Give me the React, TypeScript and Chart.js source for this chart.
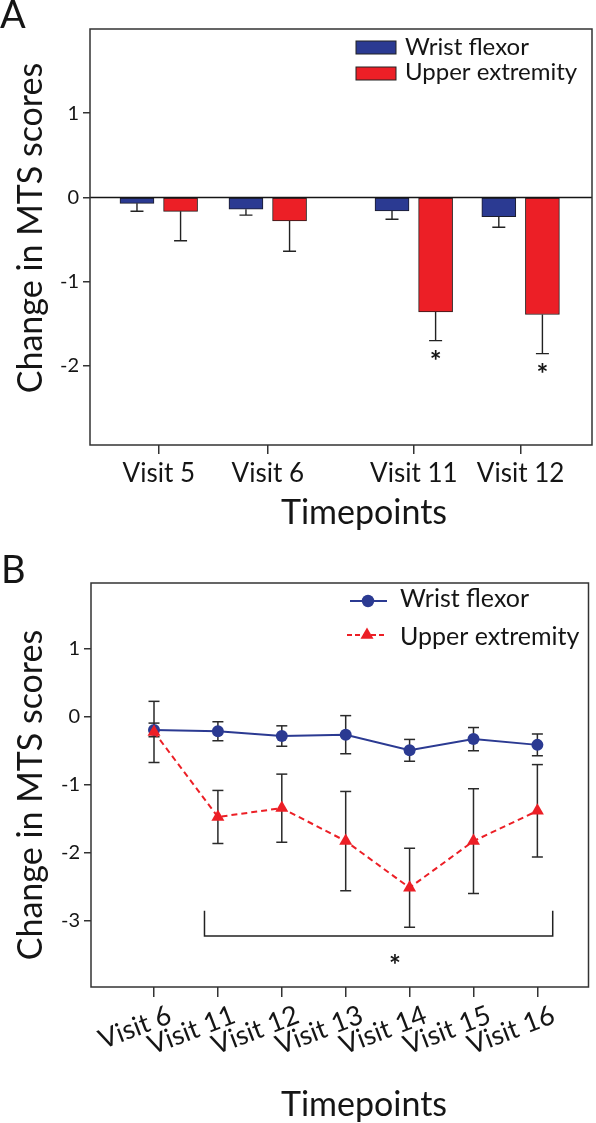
import React, { useEffect, useRef } from "react";
import { Chart, registerables } from "chart.js";

Chart.register(...registerables);

// ---------- Panel A data ----------
const visitsA = ["Visit 5", "Visit 6", "Visit 11", "Visit 12"];
const posA = [1, 2, 3.34, 4.32];
const wristA = [-0.07, -0.14, -0.16, -0.23];
const wristErrA = [0.095, 0.07, 0.1, 0.125];
const upperA = [-0.165, -0.28, -1.36, -1.39];
const upperErrA = [0.35, 0.36, 0.34, 0.465];
const sigA = [false, false, true, true];
const yTicksA = [1, 0, -1, -2];

// ---------- Panel B data ----------
const visitsB = ["Visit 6", "Visit 11", "Visit 12", "Visit 13", "Visit 14", "Visit 15", "Visit 16"];
const wristB = [-0.2, -0.22, -0.29, -0.27, -0.5, -0.335, -0.42];
const wristErrB = [0.1, 0.14, 0.15, 0.28, 0.16, 0.17, 0.16];
const upperB = [-0.23, -1.48, -1.35, -1.835, -2.52, -1.835, -1.39];
const upperErrB = [0.45, 0.39, 0.5, 0.73, 0.58, 0.77, 0.68];
const yTicksB = [1, 0, -1, -2, -3];
const bracketX = [0.79, 6.24];
const bracketY = [-2.86, -3.23];
const starB = [3.77, -3.57];

const seriesNames = ["Wrist flexor", "Upper extremity"];

const BLUE = "#2B3A92";
const RED = "#EC1F26";
const INK = "#151515";
const FRAME = "#333333";
const FAM = 'Lato, "Open Sans", sans-serif';
const F = (size: number, weight = "normal") => `${weight} ${size}px ${FAM}`;

const W = 596;
const HA = 550;
const HB = 573;

function drawErr(ctx: CanvasRenderingContext2D, px: number, p1: number, p2: number, cap: number) {
  ctx.beginPath();
  ctx.moveTo(px, p1);
  ctx.lineTo(px, p2);
  ctx.moveTo(px - cap, p2);
  ctx.lineTo(px + cap, p2);
  ctx.stroke();
}

function PanelA() {
  const ref = useRef<HTMLCanvasElement>(null);
  useEffect(() => {
    const canvas = ref.current!;
    const decor = {
      id: "decorA",
      afterDatasetsDraw(chart: any) {
        const { ctx, chartArea: a, scales } = chart;
        const x = scales.x;
        const y = scales.y;
        ctx.save();
        ctx.strokeStyle = INK;
        ctx.lineWidth = 1.5;
        const y0 = y.getPixelForValue(0);
        ctx.beginPath();
        ctx.moveTo(a.left, y0);
        ctx.lineTo(a.right, y0);
        ctx.stroke();
        ctx.strokeStyle = "#222";
        ctx.lineWidth = 1.4;
        posA.forEach((p, i) => {
          drawErr(ctx, x.getPixelForValue(p - 0.2), y.getPixelForValue(wristA[i]), y.getPixelForValue(wristA[i] - wristErrA[i]), 6.5);
          drawErr(ctx, x.getPixelForValue(p + 0.2), y.getPixelForValue(upperA[i]), y.getPixelForValue(upperA[i] - upperErrA[i]), 6.5);
        });
        ctx.fillStyle = INK;
        ctx.font = F(28, "bold");
        ctx.textAlign = "center";
        ctx.textBaseline = "alphabetic";
        posA.forEach((p, i) => {
          if (!sigA[i]) return;
          const px = x.getPixelForValue(p + 0.2);
          const py = y.getPixelForValue(upperA[i] - upperErrA[i]);
          ctx.fillText("*", px, py + 30);
        });
        ctx.restore();
      },
      afterDraw(chart: any) {
        const { ctx, chartArea: a } = chart;
        ctx.save();
        ctx.strokeStyle = FRAME;
        ctx.lineWidth = 1.5;
        ctx.strokeRect(a.left, a.top, a.right - a.left, a.bottom - a.top);
        // legend
        const colors = [BLUE, RED];
        ctx.font = F(24);
        ctx.textAlign = "left";
        ctx.textBaseline = "alphabetic";
        seriesNames.forEach((n, i) => {
          const ty = 41 + i * 26;
          ctx.fillStyle = colors[i];
          ctx.fillRect(356, ty, 40, 13);
          ctx.strokeStyle = "#222";
          ctx.lineWidth = 1;
          ctx.strokeRect(356, ty, 40, 13);
          ctx.fillStyle = INK;
          ctx.fillText(n, 405, 55 + i * 25);
        });
        // titles
        ctx.fillStyle = INK;
        ctx.font = F(34);
        ctx.textAlign = "center";
        ctx.fillText("Timepoints", 364, 524);
        ctx.save();
        ctx.translate(31, 228);
        ctx.rotate(-Math.PI / 2);
        ctx.textBaseline = "middle";
        ctx.fillText("Change in MTS scores", 0, 0);
        ctx.restore();
        ctx.font = F(38);
        ctx.textAlign = "left";
        ctx.textBaseline = "alphabetic";
        ctx.fillText("A", 0, 28);
        ctx.restore();
      },
    };
    const chart = new Chart(canvas, {
      type: "bar",
      data: {
        datasets: [
          {
            label: seriesNames[0],
            data: posA.map((p, i) => ({ x: p - 0.2, y: wristA[i] })),
            backgroundColor: BLUE,
            borderColor: "#1c1c2a",
            borderWidth: 1,
            borderSkipped: false,
            barThickness: 34,
            grouped: false,
          } as any,
          {
            label: seriesNames[1],
            data: posA.map((p, i) => ({ x: p + 0.2, y: upperA[i] })),
            backgroundColor: RED,
            borderColor: "#2a1a1a",
            borderWidth: 1,
            borderSkipped: false,
            barThickness: 34,
            grouped: false,
          } as any,
        ],
      },
      options: {
        animation: false,
        responsive: false,
        maintainAspectRatio: false,
        layout: { padding: { top: 29, right: 4, left: 0, bottom: 0 } },
        plugins: { legend: { display: false }, tooltip: { enabled: false } },
        scales: {
          x: {
            type: "linear",
            offset: false,
            min: 0.369,
            max: 4.975,
            afterBuildTicks: (s: any) => {
              s.ticks = posA.map((v) => ({ value: v }));
            },
            afterFit: (s: any) => {
              s.height = HA - 445;
            },
            ticks: {
              callback: (_v: any, i: number) => visitsA[i],
              font: { family: FAM, size: 26 },
              color: INK,
              padding: 4,
              maxRotation: 0,
              minRotation: 0,
              autoSkip: false,
            },
            grid: { drawOnChartArea: false, tickLength: 9, color: FRAME, lineWidth: 1.5, offset: false },
            border: { display: false },
          } as any,
          y: {
            type: "linear",
            min: -2.94,
            max: 2,
            afterBuildTicks: (s: any) => {
              s.ticks = yTicksA.map((v) => ({ value: v }));
            },
            afterFit: (s: any) => {
              s.width = 90;
            },
            ticks: {
              callback: (v: any) => String(v),
              font: { family: FAM, size: 20 },
              color: INK,
              padding: 4,
              autoSkip: false,
            },
            grid: { drawOnChartArea: false, tickLength: 7, color: FRAME, lineWidth: 1.5 },
            border: { display: false },
          } as any,
        },
      },
      plugins: [decor],
    });
    return () => chart.destroy();
  }, []);
  return <canvas ref={ref} width={W} height={HA} style={{ display: "block", width: W, height: HA }} />;
}

function PanelB() {
  const ref = useRef<HTMLCanvasElement>(null);
  useEffect(() => {
    const canvas = ref.current!;
    const decor = {
      id: "decorB",
      beforeDatasetsDraw(chart: any) {
        const { ctx, scales } = chart;
        const x = scales.x;
        const y = scales.y;
        ctx.save();
        ctx.strokeStyle = "#2a2a2a";
        ctx.lineWidth = 1.5;
        const both = (px: number, m: number, e: number) => {
          const top = y.getPixelForValue(m + e);
          drawErr(ctx, px, top, y.getPixelForValue(m - e), 5.5);
          ctx.beginPath();
          ctx.moveTo(px - 5.5, top);
          ctx.lineTo(px + 5.5, top);
          ctx.stroke();
        };
        visitsB.forEach((_n, i) => {
          const px = x.getPixelForValue(i);
          both(px, upperB[i], upperErrB[i]);
          both(px, wristB[i], wristErrB[i]);
        });
        ctx.restore();
      },
      afterDraw(chart: any) {
        const { ctx, chartArea: a, scales } = chart;
        const x = scales.x;
        const y = scales.y;
        ctx.save();
        ctx.strokeStyle = FRAME;
        ctx.lineWidth = 1.5;
        ctx.strokeRect(a.left, a.top, a.right - a.left, a.bottom - a.top);
        // bracket
        const bx1 = x.getPixelForValue(bracketX[0]);
        const bx2 = x.getPixelForValue(bracketX[1]);
        const by1 = y.getPixelForValue(bracketY[0]);
        const by2 = y.getPixelForValue(bracketY[1]);
        ctx.strokeStyle = "#222";
        ctx.beginPath();
        ctx.moveTo(bx1, by1);
        ctx.lineTo(bx1, by2);
        ctx.lineTo(bx2, by2);
        ctx.lineTo(bx2, by1);
        ctx.stroke();
        ctx.fillStyle = INK;
        ctx.font = F(28, "bold");
        ctx.textAlign = "center";
        ctx.textBaseline = "alphabetic";
        ctx.fillText("*", x.getPixelForValue(starB[0]), y.getPixelForValue(starB[1]) + 16);
        // legend
        ctx.lineWidth = 2;
        ctx.strokeStyle = BLUE;
        ctx.beginPath();
        ctx.moveTo(350, 51);
        ctx.lineTo(387, 51);
        ctx.stroke();
        ctx.fillStyle = BLUE;
        ctx.beginPath();
        ctx.arc(368, 51, 6.2, 0, Math.PI * 2);
        ctx.fill();
        ctx.strokeStyle = RED;
        ctx.setLineDash([5, 3]);
        ctx.beginPath();
        ctx.moveTo(347, 85);
        ctx.lineTo(385, 85);
        ctx.stroke();
        ctx.setLineDash([]);
        ctx.fillStyle = RED;
        const r = 7.5;
        ctx.beginPath();
        for (let k = 0; k < 3; k++) {
          const ang = (k * 2 * Math.PI) / 3;
          const vx = 367 + Math.sin(ang) * r;
          const vy = 85 - Math.cos(ang) * r;
          if (k === 0) ctx.moveTo(vx, vy);
          else ctx.lineTo(vx, vy);
        }
        ctx.closePath();
        ctx.fill();
        ctx.fillStyle = INK;
        ctx.font = F(25);
        ctx.textAlign = "left";
        ctx.fillText(seriesNames[0], 400, 57);
        ctx.fillText(seriesNames[1], 400, 95);
        // titles
        ctx.font = F(34);
        ctx.textAlign = "center";
        ctx.fillText("Timepoints", 364, 566);
        ctx.save();
        ctx.translate(31, 245);
        ctx.rotate(-Math.PI / 2);
        ctx.textBaseline = "middle";
        ctx.fillText("Change in MTS scores", 0, 0);
        ctx.restore();
        ctx.font = F(38);
        ctx.textAlign = "left";
        ctx.textBaseline = "alphabetic";
        ctx.fillText("B", 1, 33);
        ctx.restore();
      },
    };
    const chart = new Chart(canvas, {
      type: "line",
      data: {
        datasets: [
          {
            label: seriesNames[0],
            data: wristB.map((v, i) => ({ x: i, y: v })),
            borderColor: BLUE,
            backgroundColor: BLUE,
            borderWidth: 2,
            pointStyle: "circle",
            pointRadius: 6,
            pointBorderWidth: 0,
            pointBackgroundColor: BLUE,
            tension: 0,
            order: 1,
          } as any,
          {
            label: seriesNames[1],
            data: upperB.map((v, i) => ({ x: i, y: v })),
            borderColor: RED,
            backgroundColor: RED,
            borderWidth: 2,
            borderDash: [6, 4],
            pointStyle: "triangle",
            pointRadius: 7.5,
            pointBorderWidth: 0,
            pointBackgroundColor: RED,
            tension: 0,
            order: 0,
          } as any,
        ],
      },
      options: {
        animation: false,
        responsive: false,
        maintainAspectRatio: false,
        layout: { padding: { top: 33, right: 4, left: 0, bottom: 0 } },
        plugins: { legend: { display: false }, tooltip: { enabled: false } },
        scales: {
          x: {
            type: "linear",
            offset: false,
            min: -0.986,
            max: 6.8,
            afterBuildTicks: (s: any) => {
              s.ticks = visitsB.map((_n, i) => ({ value: i }));
            },
            afterFit: (s: any) => {
              s.height = HB - 437;
            },
            ticks: {
              callback: (_v: any, i: number) => visitsB[i],
              font: { family: FAM, size: 27 },
              color: INK,
              padding: 2,
              labelOffset: 16,
              maxRotation: 21,
              minRotation: 21,
              autoSkip: false,
            },
            grid: { drawOnChartArea: false, tickLength: 10, color: FRAME, lineWidth: 1.5 },
            border: { display: false },
          } as any,
          y: {
            type: "linear",
            min: -3.98,
            max: 1.96,
            afterBuildTicks: (s: any) => {
              s.ticks = yTicksB.map((v) => ({ value: v }));
            },
            afterFit: (s: any) => {
              s.width = 91;
            },
            ticks: {
              callback: (v: any) => String(v),
              font: { family: FAM, size: 20 },
              color: INK,
              padding: 4,
              autoSkip: false,
            },
            grid: { drawOnChartArea: false, tickLength: 7, color: FRAME, lineWidth: 1.5 },
            border: { display: false },
          } as any,
        },
      },
      plugins: [decor],
    });
    return () => chart.destroy();
  }, []);
  return <canvas ref={ref} width={W} height={HB} style={{ display: "block", width: W, height: HB }} />;
}

export default function App() {
  return (
    <div style={{ position: "absolute", left: 0, top: 0, width: W, height: HA + HB, background: "#fff" }}>
      <PanelA />
      <PanelB />
    </div>
  );
}
